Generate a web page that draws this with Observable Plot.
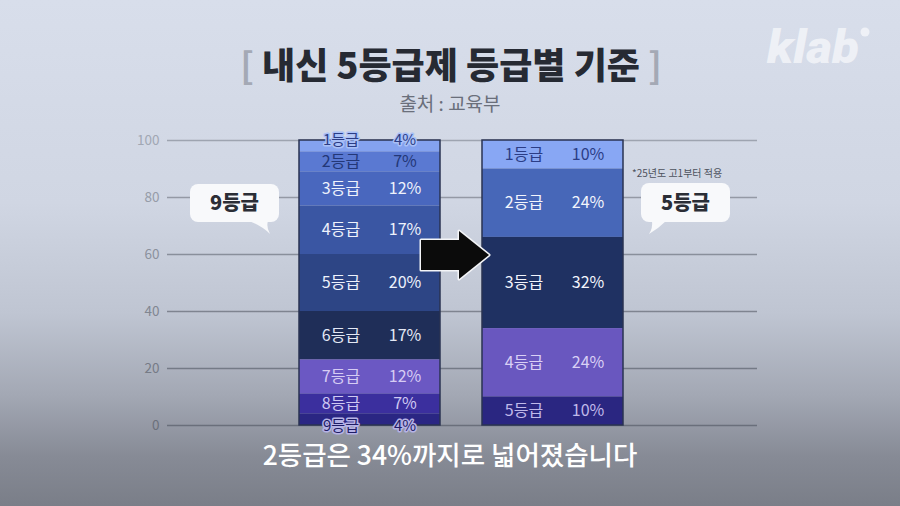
<!DOCTYPE html>
<html><head><meta charset="utf-8">
<script src="https://cdn.jsdelivr.net/npm/d3@7"></script>
<script src="https://cdn.jsdelivr.net/npm/@observablehq/plot@0.6"></script>
<style>
html,body{margin:0;padding:0;}
#wrap{position:relative;width:900px;height:506px;overflow:hidden;
 background:linear-gradient(to bottom,#d8deeb 0%,#d0d6e3 40%,#bfc5d2 62%,#a3a8b4 78%,#878b96 90%,#7a7e88 100%);
 font-family:"Noto Sans CJK KR","Noto Sans",sans-serif;}
#chart{position:absolute;left:0;top:0;}
#overlay{position:absolute;left:0;top:0;pointer-events:none;}
</style></head>
<body>
<div id="wrap">
<div id="chart"></div>
<svg id="overlay" width="900" height="506" xmlns="http://www.w3.org/2000/svg">
  <text x="451" y="79" text-anchor="middle" font-size="36" font-weight="900" fill="#262a33"><tspan fill="#a4a9b5" font-weight="700">[</tspan> 내신 5등급제 등급별 기준 <tspan fill="#a4a9b5" font-weight="700">]</tspan></text>
  <text x="450" y="111" text-anchor="middle" font-size="19" fill="#6a6f7b">출처 : 교육부</text>
  <text x="767" y="63" font-family="Roboto" font-size="46" font-weight="900" font-style="italic" fill="#ffffff" fill-opacity="0.6" textLength="92" lengthAdjust="spacingAndGlyphs">klab</text>
  <circle cx="865" cy="32" r="4.5" fill="#ffffff" fill-opacity="0.6"/>
  <!-- callout 9등급 -->
  <rect x="190" y="184" width="89" height="38" rx="8" fill="#f8f9fb"/>
  <path d="M249,221 Q262,226 270,234 Q266,227 268,221 Z" fill="#f8f9fb"/>
  <text x="234.5" y="210" text-anchor="middle" font-size="20" font-weight="900" fill="#2b2e36">9등급</text>
  <!-- callout 5등급 -->
  <rect x="641" y="183" width="89" height="39" rx="8" fill="#f8f9fb"/>
  <path d="M652,221 Q653,228 649,234 Q659,228 666,221 Z" fill="#f8f9fb"/>
  <text x="685.5" y="210" text-anchor="middle" font-size="20" font-weight="900" fill="#2b2e36">5등급</text>
  <text x="632" y="177" font-size="10" fill="#4d525d">*25년도 고1부터 적용</text>
  <!-- arrow -->
  <path d="M421,240 L459,240 L459,231 L489,255 L459,279 L459,270 L421,270 Z" fill="#0b0b0b" stroke="#f4f5f8" stroke-width="3" stroke-linejoin="round" paint-order="stroke"/>
  <text x="450" y="465" text-anchor="middle" font-size="26.5" font-weight="500" fill="#ffffff">2등급은 34%까지로 넓어졌습니다</text>
</svg>
</div>
<script>
// ---- data ----
const systems = ["9등급제", "5등급제"];
const grades9 = ["1등급","2등급","3등급","4등급","5등급","6등급","7등급","8등급","9등급"];
const pct9 = [4, 7, 12, 17, 20, 17, 12, 7, 4];
const grades5 = ["1등급","2등급","3등급","4등급","5등급"];
const pct5 = [10, 24, 32, 24, 10];
const yTicks = [0, 20, 40, 60, 80, 100];

// ---- styles ----
const fill9 = ["#84a2ef","#5a79d2","#4967be","#3a56a3","#2d4585","#1f2e58","#6b58c3","#3b2f9e","#2a2683"];
const fill5 = ["#88a7f4","#4767b8","#1f3162","#6957bf","#2a2681"];
const text9 = ["#2b3d86","#233777","#eef2fc","#eef2fc","#eef2fc","#e3e8f5","#d6ccf4","#cfc8f2","#1f1d66"];
const text5 = ["#2b3d86","#f3f5fc","#f3f5fc","#d9d0f5","#c0b9ea"];
const tickColor = d3.interpolateRgb("#6b707b", "#a1a7b3");
const gridColor = d3.interpolateRgb("#6a6f7b", "#9ea4b0");

const rows = [
  ...grades9.map((g, i) => ({system: systems[0], grade: g, pct: pct9[i], i})),
  ...grades5.map((g, i) => ({system: systems[1], grade: g, pct: pct5[i], i}))
];
const fillOf = d => d.system === systems[0] ? fill9[d.i] : fill5[d.i];
const textOf = d => d.system === systems[0] ? text9[d.i] : text5[d.i];
const isTopEnd = d => d.system === systems[0] && d.i === 0;
const isBotEnd = d => d.system === systems[0] && d.i === grades9.length - 1;
const isMid = d => !isTopEnd(d) && !isBotEnd(d);

const font = "Noto Sans CJK KR";
const labelMarks = (pred, dy, halo, size) => [
  Plot.text(rows, Plot.stackY({x: "system", y: "pct", reverse: true,
    text: d => pred(d) ? d.grade : "", fill: textOf, dx: -29, dy,
    fontSize: size, fontFamily: font, stroke: halo || undefined, strokeWidth: halo ? 3 : undefined})),
  Plot.text(rows, Plot.stackY({x: "system", y: "pct", reverse: true,
    text: d => pred(d) ? d.pct + "%" : "", fill: textOf, dx: 35, dy,
    fontSize: size, fontFamily: font, stroke: halo || undefined, strokeWidth: halo ? 3 : undefined}))
];

const chart = Plot.plot({
  width: 900, height: 506,
  marginTop: 140, marginBottom: 81, marginLeft: 167, marginRight: 143,
  style: {background: "transparent", fontFamily: font},
  x: {type: "band", domain: systems, range: [299, 623], paddingInner: 0.23, paddingOuter: 0, axis: null},
  y: {domain: [0, 100], axis: null},
  color: {type: "identity"},
  marks: [
    Plot.ruleY(yTicks, {stroke: d => gridColor(d / 100), strokeWidth: 1.6}),
    Plot.axisY({ticks: yTicks, label: null, tickSize: 0, tickPadding: 8, fontSize: 13.5, fill: d => tickColor(d / 100), fontFamily: font}),
    Plot.barY(rows, Plot.stackY({x: "system", y: "pct", reverse: true, fill: fillOf})),
    Plot.barY(rows, Plot.groupX({y: "sum"}, {x: "system", y: "pct", fill: "none", stroke: "#2a3352", strokeWidth: 1.5})),
    ...labelMarks(isMid, 0, null, 16),
    ...labelMarks(isTopEnd, -6, "#a9c0f7", 15),
    ...labelMarks(isBotEnd, 6, "#b6b3e6", 15)
  ]
});
document.getElementById("chart").appendChild(chart);
</script>
</body></html>
